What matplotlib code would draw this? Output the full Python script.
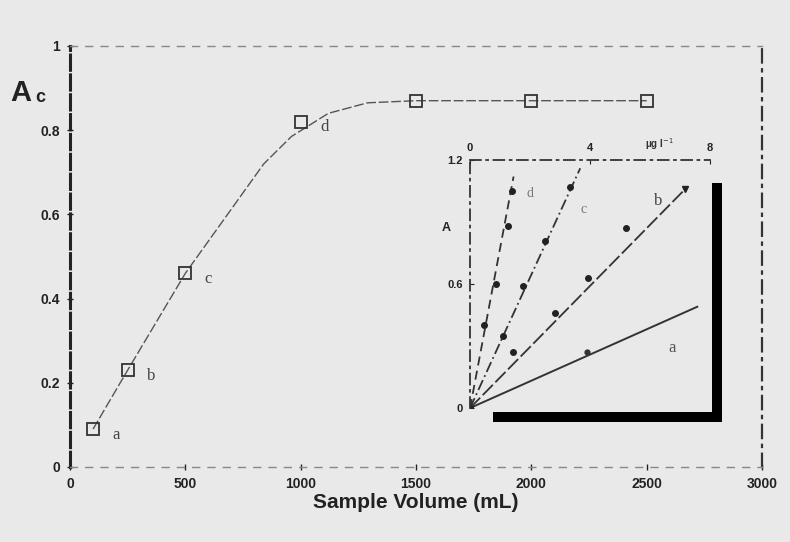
import matplotlib.pyplot as plt
from matplotlib.patches import Rectangle

plt.rcParams['font.family'] = ['Liberation Sans', 'DejaVu Sans']

BG = '#e9e9e9'
INK = '#222222'

# breakthrough curve: sample volume vs recovered absorbance
volume = [100, 250, 500, 1000, 1500, 2000, 2500]
ac = [0.09, 0.23, 0.46, 0.82, 0.87, 0.87, 0.87]
point_labels = ['a', 'b', 'c', 'd', '', '', '']

curve_vol = [100, 250, 500, 840, 960, 1120, 1290, 1500, 2000, 2500]
curve_ac = [0.09, 0.23, 0.46, 0.72, 0.785, 0.84, 0.865, 0.87, 0.87, 0.87]

# calibration lines for each sample volume (inset)
conc_a = [0, 3.9]
abs_a = [0, 0.27]
fit_a = ([0, 7.57], [0, 0.49])

conc_b = [0, 1.43, 2.83, 3.93, 5.2, 7.17]
abs_b = [0, 0.27, 0.46, 0.63, 0.87, 1.06]
fit_b = ([0, 7.17], [0, 1.06])

conc_c = [0, 1.1, 1.77, 2.5, 3.33]
abs_c = [0, 0.35, 0.59, 0.81, 1.07]
fit_c = ([0, 3.67], [0, 1.16])

conc_d = [0, 0.47, 0.87, 1.27, 1.4]
abs_d = [0, 0.40, 0.60, 0.88, 1.05]
fit_d = ([0, 1.45], [0, 1.12])

fig = plt.figure(figsize=(7.9, 5.42), dpi=100, facecolor=BG)
ax = fig.add_axes([0.0886, 0.1384, 0.876, 0.7768])
ax.set_facecolor(BG)

ax.plot(curve_vol, curve_ac, color='#555555', lw=1.0, ls=(0, (7, 2)))
ax.plot(volume, ac, 's', ms=9, mfc='none', mec='#333333', mew=1.3)
for v, a, lab in zip(volume, ac, point_labels):
    if lab:
        ax.annotate(lab, (v, a), xytext=(14, -4), textcoords='offset points',
                    family='Liberation Serif', fontsize=12, color='#444444',
                    va='center')

ax.set_xlim(0, 3000)
ax.set_ylim(0, 1)
ax.set_xticks([0, 500, 1000, 1500, 2000, 2500, 3000])
ax.set_yticks([0, 0.2, 0.4, 0.6, 0.8, 1])
ax.set_yticklabels(['0', '0.2', '0.4', '0.6', '0.8', '1'])
ax.tick_params(labelsize=10, colors=INK, length=4, width=1, pad=5,
               direction='inout')
for lab in ax.get_xticklabels() + ax.get_yticklabels():
    lab.set_fontweight('bold')

ax.spines['left'].set_linewidth(2.2)
ax.spines['left'].set_linestyle((0, (5, 1.5)))
ax.spines['left'].set_color(INK)
ax.spines['right'].set_linewidth(1.6)
ax.spines['right'].set_linestyle((0, (6, 3, 1, 3)))
ax.spines['right'].set_color('#333333')
for side in ['top', 'bottom']:
    ax.spines[side].set_linewidth(1.0)
    ax.spines[side].set_linestyle((0, (5, 6)))
    ax.spines[side].set_color('#888888')

ax.set_xlabel('Sample Volume (mL)', fontsize=15, fontweight='bold',
              color=INK, labelpad=2)
fig.text(0.013, 0.814, 'A', fontsize=21, fontweight='bold', color=INK)
fig.text(0.045, 0.812, 'c', fontsize=13, fontweight='bold', color=INK)

# inset: absorbance vs concentration
ins = fig.add_axes([0.595, 0.2472, 0.304, 0.4576])
ins.patch.set_visible(False)
ins.set_xlim(0, 8)
ins.set_ylim(0, 1.2)

ins.plot(*fit_a, color='#333333', lw=1.4)
ins.plot(conc_a, abs_a, 'o', color='#333333', ms=3.5)
ins.plot(*fit_b, color='#333333', lw=1.3, ls=(0, (8, 2)))
ins.plot(conc_b[:-1], abs_b[:-1], 'o', color='#222222', ms=4)
ins.plot(conc_b[-1:], abs_b[-1:], 'v', color='#222222', ms=5)
ins.plot(*fit_c, color='#333333', lw=1.3, ls=(0, (6, 2, 1, 2)))
ins.plot(conc_c, abs_c, 'o', color='#222222', ms=4)
ins.plot(*fit_d, color='#333333', lw=1.3, ls=(0, (5, 3)))
ins.plot(conc_d, abs_d, 'o', color='#222222', ms=4)

ins.text(6.73, 0.29, 'a', family='Liberation Serif', fontsize=12,
         color='#555555', ha='center', va='center')
ins.text(6.27, 1.0, 'b', family='Liberation Serif', fontsize=12,
         color='#444444', ha='center', va='center')
ins.text(3.77, 0.96, 'c', family='Liberation Serif', fontsize=10,
         color='#777777', ha='center', va='center')
ins.text(2.0, 1.04, 'd', family='Liberation Serif', fontsize=10,
         color='#777777', ha='center', va='center')

ins.xaxis.tick_top()
ins.set_xticks([0, 4, 8])
ins.set_yticks([0, 0.6, 1.2])
ins.set_yticklabels(['0', '0.6', '1.2'])
ins.tick_params(labelsize=8, colors=INK, length=3, direction='in', pad=5)
for lab in ins.get_xticklabels() + ins.get_yticklabels():
    lab.set_fontweight('bold')
ins.text(6.3, 1.24, 'μg l$^{-1}$', fontsize=7, fontweight='bold',
         color='#333333', ha='center', va='bottom')
ins.set_ylabel('A', fontsize=9, fontweight='bold', rotation=0,
               labelpad=8, color=INK)
ins.yaxis.set_label_coords(-0.1, 0.7)

for side in ['left', 'top']:
    ins.spines[side].set_linestyle((0, (6, 3, 1, 3)))
    ins.spines[side].set_color('#333333')
    ins.spines[side].set_linewidth(1.3)
for side in ['right', 'bottom']:
    ins.spines[side].set_visible(False)

# heavy shadow frame along bottom and right of the inset
ins.add_patch(Rectangle((0.096, -0.056), 0.954, 0.04, transform=ins.transAxes,
                        color='black', clip_on=False, lw=0))
ins.add_patch(Rectangle((1.008, -0.056), 0.042, 0.963, transform=ins.transAxes,
                        color='black', clip_on=False, lw=0))

fig.savefig('out.png', dpi=100, facecolor=BG)
